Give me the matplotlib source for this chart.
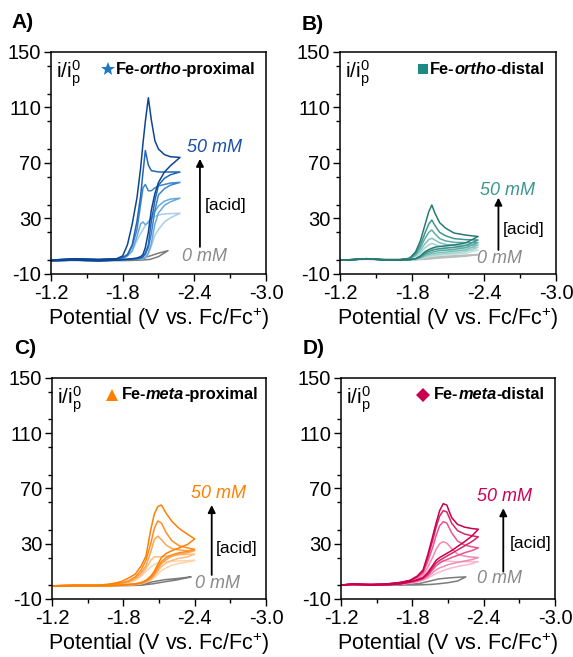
import numpy as np
import matplotlib
matplotlib.use('Agg')
import matplotlib.pyplot as plt
from matplotlib.ticker import MultipleLocator

plt.rcParams['font.family'] = ['Liberation Sans', 'DejaVu Sans']
plt.rcParams['mathtext.fontset'] = 'custom'
plt.rcParams['mathtext.rm'] = 'Liberation Sans'
plt.rcParams['mathtext.it'] = 'Liberation Sans:italic'

# ---- panel A : Fe-ortho-proximal (potential grid, forward values, reverse values on same grid)
E_A = [-1.20, -1.40, -1.60, -1.75, -1.80, -1.84, -1.88, -1.92, -1.95, -1.97, -1.99, -2.015, -2.04, -2.07, -2.10, -2.15, -2.20, -2.28]
A_fwd = [
    [0, 0.5, 0.3, 0.5, 1, 3, 7, 14, 19, 22, 25, 28, 30, 31.5, 32.5, 33.3, 33.5, 33.7],
    [0, 0.8, 0.3, 0.8, 1, 3, 6.5, 17, 26, 27.5, 25.5, 27, 31, 35, 39, 42.5, 44, 44.6],
    [0, 0.8, 0.3, 0.8, 1.5, 3.5, 10, 22, 40, 52, 54.5, 50, 50, 52, 53.5, 54.5, 55.5, 56],
    [0, 0.8, 0.3, 0.8, 2, 4, 11, 28, 46, 63, 79, 68.5, 64.5, 64, 63.5, 63.5, 63.5, 63.5],
    [0, 1, 0.5, 1, 3, 11, 26, 45, 66, 84, 100, 117, 101, 86, 80, 76, 74.5, 74],
]
A_rev = [
    [-0.5, 0, -0.5, 0, 0.3, 0.5, 0.8, 0.8, 1, 1.2, 1.5, 4.5, 10, 18, 22, 27.5, 30.5, 33.7],
    [-0.5, 0, -0.5, 0, 0.3, 0.5, 0.8, 0.8, 1, 1.2, 1.5, 5, 12, 26, 34, 39.5, 42, 44.6],
    [-0.5, 0, -0.5, 0, 0.3, 0.5, 0.8, 1, 1.5, 2.5, 4, 9, 19, 36, 47, 51.5, 54, 56],
    [-0.5, 0, -0.5, 0, 0.3, 0.5, 0.8, 1, 1.5, 2.5, 5, 11, 28, 43, 54, 59, 61.5, 63.5],
    [-0.5, 0, -0.5, 0, 0.3, 0.5, 1, 1.5, 2.5, 4, 9, 20, 36, 48, 56, 63.5, 68, 74],
]
A_colors = ['#a9cdeb', '#6aa8dc', '#3c86cc', '#2367b5', '#0d4595']
E_A0 = [-1.20, -1.60, -1.85, -1.95, -2.03, -2.10, -2.18]
A0_fwd = [0, 0, 0.3, 1, 3, 5, 6.8]
A0_rev = [0, -0.5, -0.3, 0, 0.5, 2.5, 6.8]

# ---- panel B : Fe-ortho-distal
E_B = [-1.20, -1.30, -1.42, -1.55, -1.70, -1.78, -1.83, -1.87, -1.91, -1.94, -1.965, -1.99, -2.03, -2.08, -2.15, -2.25, -2.35]
B_fwd = [
    [0, 0.3, 1, 0.3, 0.3, 0.8, 2.5, 4.5, 6.5, 7.5, 8, 7.8, 7.3, 7.1, 7.1, 7.2, 7.3],
    [0, 0.3, 1, 0.3, 0.3, 0.9, 3, 5.5, 9, 11, 12, 11.3, 10, 9.3, 9, 9, 9.2],
    [0, 0.3, 1, 0.3, 0.3, 1, 3.5, 7, 12, 14.8, 15.7, 14.5, 12.5, 11.3, 10.8, 10.8, 10.9],
    [0, 0.3, 1, 0.3, 0.3, 1.1, 4, 9, 16, 20, 21.7, 19, 15.5, 13.8, 12.8, 12.6, 12.6],
    [0, 0.3, 1, 0.3, 0.3, 1.2, 5, 11, 20, 26, 28.9, 25, 20, 17.5, 15.5, 14.7, 14.5],
    [0, 0.3, 1, 0.3, 0.3, 1.3, 6, 14, 26, 35, 39.7, 34, 27, 23, 19.5, 18, 17],
]
B_rev = [
    [0, 0.3, 1, 0.3, 0, 0.2, 0.5, 1, 2, 2.5, 2.8, 3.1, 3.4, 3.7, 4.1, 5, 7.3],
    [0, 0.3, 1, 0.3, 0, 0.3, 0.6, 1.3, 2.5, 3.2, 3.6, 4, 4.3, 4.7, 5.1, 6.2, 9.2],
    [0, 0.3, 1, 0.3, 0, 0.3, 0.7, 1.6, 3.2, 4, 4.6, 5, 5.4, 5.8, 6.3, 7.5, 10.9],
    [0, 0.3, 1, 0.3, 0, 0.3, 0.8, 2, 4, 5, 5.7, 6.3, 6.8, 7.2, 7.7, 9, 12.6],
    [0, 0.3, 1, 0.3, 0, 0.3, 1, 2.5, 5, 6.3, 7, 7.7, 8.2, 8.6, 9.2, 10.5, 14.5],
    [0, 0.3, 1, 0.3, 0, 0.3, 1, 3, 6, 7.5, 8.5, 9.3, 9.8, 10.3, 10.9, 12.5, 17],
]
B_colors = ['#c2e2df', '#a3d3cf', '#80c1bb', '#5eaca6', '#3f958f', '#287a75']
B0_fwd = [0, 0.3, 1, 0.3, 0.3, 0.5, 0.7, 1, 1.4, 1.7, 2, 2.2, 2.5, 2.8, 3.2, 3.6, 4]
B0_rev = [0, 0, 0.6, 0, -0.2, 0, 0.2, 0.4, 0.6, 0.8, 1, 1.2, 1.5, 1.8, 2.2, 2.8, 4]

# ---- panel C : Fe-meta-proximal
E_C = [-1.20, -1.40, -1.60, -1.70, -1.78, -1.84, -1.90, -1.95, -1.99, -2.03, -2.06, -2.09, -2.12, -2.16, -2.21, -2.27, -2.34, -2.40]
C_fwd = [
    [-0.5, 0, 0, 0.3, 0.7, 1.5, 3.5, 6.5, 10, 13, 15, 16, 16.5, 17, 17.3, 17.6, 17.8, 18],
    [-0.5, 0, 0, 0.3, 0.8, 2, 4, 7.5, 12, 18, 20.5, 20.5, 20.5, 21, 21.5, 22, 22.3, 22.5],
    [-0.5, 0, 0, 0.4, 1, 2.5, 5, 9, 14, 24, 33, 35.5, 33, 29, 26.5, 25.5, 25, 25],
    [-0.5, 0, 0, 0.5, 1.5, 3, 6, 11, 18, 30, 41, 46.5, 45, 38, 32, 28.5, 27, 26],
    [-0.5, 0, 0, 1, 2.5, 5, 8, 14, 21, 40, 51.5, 57, 58, 52, 46, 41, 36.8, 33.5],
]
C_rev = [
    [-0.8, -0.5, -0.5, -0.3, 0, 0.2, 0.5, 1, 2, 3.5, 5.5, 8, 10.5, 12.5, 14.5, 15.8, 16.8, 18],
    [-0.8, -0.5, -0.5, -0.3, 0, 0.3, 0.6, 1.2, 2.2, 4, 6.5, 10, 13.5, 16, 18, 19.5, 20.5, 22.5],
    [-0.8, -0.5, -0.5, -0.3, 0, 0.3, 0.7, 1.3, 2.5, 4.5, 7.5, 11.5, 15.5, 18.5, 21, 22.5, 23.5, 25],
    [-0.8, -0.5, -0.5, -0.3, 0, 0.3, 0.8, 1.5, 3, 5.5, 8.5, 13, 17, 20, 22, 23.5, 24.5, 26],
    [-0.8, -0.5, -0.5, -0.3, 0, 0.5, 1, 2, 3.5, 6.5, 10, 15, 20, 23, 25, 27, 29.5, 33.5],
]
C_colors = ['#ffd3a8', '#ffbd80', '#ffa552', '#ff8c1f', '#ff7f00']
E_C0 = [-1.20, -1.60, -1.85, -1.95, -2.05, -2.15, -2.25, -2.37]
C0_fwd = [-0.5, 0, 0, 0.5, 2.5, 4, 4.8, 6]
C0_rev = [-0.8, -0.5, -0.3, 0, 1, 2.5, 3.8, 6]

# ---- panel D : Fe-meta-distal
E_D = [-1.20, -1.30, -1.45, -1.60, -1.70, -1.78, -1.84, -1.89, -1.93, -1.97, -2.00, -2.03, -2.06, -2.09, -2.13, -2.18, -2.24, -2.30, -2.355]
D_fwd = [
    [0, 1, 0.5, 0.8, 1.3, 2.2, 4, 6.5, 10.5, 14, 16, 17, 17.5, 17.5, 17.2, 17, 17, 17, 17],
    [0, 1, 0.5, 0.8, 1.5, 2.5, 4.5, 7.5, 13, 20, 26, 30, 31.5, 30.5, 26.5, 22.5, 21, 20.3, 20],
    [0, 1, 0.5, 1, 1.8, 3, 5.5, 9, 17, 27, 36, 43, 46, 45, 38, 32, 29, 27.8, 27],
    [0, 1, 0.5, 1, 2, 3.3, 6, 10, 20, 32, 42, 50, 54, 53, 45, 39.5, 37, 35.8, 35],
    [0, 1, 0.5, 1, 2, 3.5, 6.5, 11, 22, 35, 45, 54, 59, 58, 49, 44, 42, 41, 40.5],
]
D_rev = [
    [0, 0.5, 0, 0.3, 0.6, 1.5, 2.3, 3.5, 5, 7, 8.5, 9.5, 10.5, 11.5, 12.5, 13.5, 14.5, 15.5, 17],
    [0, 0.5, 0, 0.3, 0.7, 1.8, 2.7, 4, 6, 9, 11, 12.5, 13.5, 14.5, 15.5, 16.5, 17.5, 18.5, 20],
    [0, 0.5, 0, 0.3, 0.8, 2, 3, 4.5, 7, 11, 14, 16, 17.5, 18.5, 20, 21.5, 23.5, 25, 27],
    [0, 0.5, 0, 0.3, 1, 2.3, 3.5, 5, 8, 12.5, 16, 18, 19.5, 21, 23, 25.5, 28.5, 31.5, 35],
    [0, 0.5, 0, 0.3, 1, 2.5, 3.8, 5.5, 9, 14, 18, 20, 21.5, 23, 25, 28, 31.5, 35.5, 40.5],
]
D_colors = ['#f9b8cf', '#f28ab0', '#e9558e', '#da2468', '#c8004f']
E_D0 = [-1.20, -1.60, -1.85, -1.95, -2.02, -2.10, -2.18, -2.25]
D0_fwd = [0, 0.3, 1, 3, 4.5, 5.2, 5.7, 6]
D0_rev = [0, 0, 0.2, 0.5, 1, 1.8, 3, 6]

gray = '#7c7c7c'


def cv(ax, E, fwd, rev, color, lw=1.1):
    x = list(E) + list(E[::-1])
    y = list(fwd) + list(rev[::-1])
    ax.plot(x, y, color=color, lw=lw, solid_joinstyle='round')


def style_axes(ax):
    ax.set_xlim(-1.2, -3.0)
    ax.set_ylim(-10, 150)
    ax.xaxis.set_minor_locator(MultipleLocator(0.3))
    ax.yaxis.set_minor_locator(MultipleLocator(20))
    ax.set_xticks([-1.2, -1.8, -2.4, -3.0])
    ax.set_xticklabels(['-1.2', '-1.8', '-2.4', '-3.0'])
    ax.set_yticks([-10, 30, 70, 110, 150])
    ax.set_yticklabels(['-10', '30', '70', '110', '150'])
    ax.tick_params(which='major', direction='out', length=5, width=1, labelsize=14.5, pad=2)
    ax.tick_params(which='minor', direction='out', length=3, width=1)
    for s in ax.spines.values():
        s.set_linewidth(1.1)
    ax.set_xlabel(r'Potential (V vs. Fc/Fc$^{\mathregular{+}}$)', fontsize=15.5, labelpad=2)
    ax.text(0.025, 0.97, r'$\mathregular{i/i_p^0}$', transform=ax.transAxes,
            fontsize=15, va='top', ha='left')


def name_label(ax, xm, x0, y, marker, mcolor, parts, msize):
    ax.plot([xm], [y], marker=marker, color=mcolor, ms=msize, mew=0,
            transform=ax.transAxes, clip_on=False)
    r = ax.figure.canvas.get_renderer()
    x = x0
    for s, st in parts:
        t = ax.text(x, y, s, transform=ax.transAxes, fontsize=11.8, fontweight='bold',
                    style=st, va='center', ha='left')
        x += t.get_window_extent(renderer=r).width / ax.bbox.width


def acid_arrow(ax, xa, y0, y1, x50, y50, c50, x0, y0lab, xacid, yacid):
    ax.annotate('', xy=(xa, y1), xytext=(xa, y0),
                arrowprops=dict(arrowstyle='-|>', color='black', lw=1.3,
                                mutation_scale=11, shrinkA=0, shrinkB=0))
    ax.text(x50, y50, '50 mM', color=c50, style='italic', fontsize=13, va='center', ha='left')
    ax.text(x0, y0lab, '0 mM', color='#8a8a8a', style='italic', fontsize=13, va='center', ha='left')
    ax.text(xacid, yacid, '[acid]', color='black', fontsize=12.5, va='center', ha='left')


fig = plt.figure(figsize=(5.73, 6.57), dpi=100)
axA = fig.add_axes([0.0890, 0.5830, 0.3752, 0.3379])
axB = fig.add_axes([0.5934, 0.5830, 0.3770, 0.3379])
axC = fig.add_axes([0.0908, 0.0883, 0.3735, 0.3364])
axD = fig.add_axes([0.5951, 0.0883, 0.3735, 0.3364])

# A
cv(axA, E_A0, A0_fwd, A0_rev, gray)
for f, r, c in zip(A_fwd, A_rev, A_colors):
    cv(axA, E_A, f, r, c)
# B
cv(axB, E_B, B0_fwd, B0_rev, '#b9bdbd')
for f, r, c in zip(B_fwd, B_rev, B_colors):
    cv(axB, E_B, f, r, c)
# C
cv(axC, E_C0, C0_fwd, C0_rev, gray)
for f, r, c in zip(C_fwd, C_rev, C_colors):
    cv(axC, E_C, f, r, c)
# D
cv(axD, E_D0, D0_fwd, D0_rev, gray)
for f, r, c in zip(D_fwd, D_rev, D_colors):
    cv(axD, E_D, f, r, c)

for ax in (axA, axB, axC, axD):
    style_axes(ax)

name_label(axA, 0.265, 0.30, 0.923, '*', '#1f78c1', [('Fe-', 'normal'), ('ortho', 'italic'), ('-proximal', 'normal')], 10)
name_label(axB, 0.384, 0.415, 0.923, 's', '#1e8a84', [('Fe-', 'normal'), ('ortho', 'italic'), ('-distal', 'normal')], 7)
name_label(axC, 0.279, 0.325, 0.923, '^', '#ff7f00', [('Fe-', 'normal'), ('meta', 'italic'), ('-proximal', 'normal')], 8)
name_label(axD, 0.383, 0.435, 0.923, 'D', '#c8004f', [('Fe-', 'normal'), ('meta', 'italic'), ('-distal', 'normal')], 7.5)

acid_arrow(axA, -2.447, 9.5, 73, -2.34, 81.5, '#1a4fa3', -2.30, 2.3, -2.49, 39.7)
acid_arrow(axB, -2.52, 7.3, 45, -2.37, 50, '#3b9690', -2.34, 1.5, -2.56, 21.7)
acid_arrow(axC, -2.543, 7.4, 58, -2.37, 66.5, '#ff7f00', -2.40, 1.4, -2.58, 26.7)
acid_arrow(axD, -2.565, 9.8, 55.7, -2.34, 64, '#cc0055', -2.34, 5, -2.62, 30.3)

for lab, x, y in [('A)', 0.020, 0.966), ('B)', 0.527, 0.963), ('C)', 0.024, 0.470), ('D)', 0.528, 0.470)]:
    fig.text(x, y, lab, fontsize=15, fontweight='bold', va='center', ha='left')

fig.savefig('out.png', dpi=100)
